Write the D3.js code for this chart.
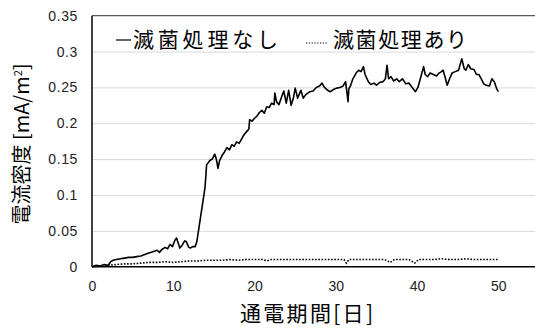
<!DOCTYPE html>
<html>
<head>
<meta charset="utf-8">
<script src="https://cdn.jsdelivr.net/npm/d3@7"></script>
<style>
  html, body { margin: 0; padding: 0; background: #fff; }
  svg { display: block; }
</style>
</head>
<body>
<svg id="chart" width="535" height="330"></svg>
<script>
// Current density without sterilization (day, mA/m2)
const daysUnsterilized = [
  0, 0.5, 1.0, 1.5, 2.0, 2.3, 2.6, 3.0, 3.5, 4.0, 4.5, 5.0, 5.5, 6.0, 6.5, 7.0, 7.5, 8.0, 8.3, 8.6,
  9.0, 9.3, 9.6, 9.9, 10.2, 10.4, 10.6, 10.8, 11.1, 11.4, 11.6, 11.9, 12.1, 12.4, 12.7, 12.9, 13.1, 13.3, 13.5, 13.7,
  13.9, 14.0, 14.1, 14.3, 14.5, 14.8, 15.1, 15.3, 15.5, 15.7, 16.0, 16.3, 16.6, 16.9, 17.2, 17.5, 17.8, 18.1, 18.4, 18.7,
  19.0, 19.3, 19.4, 19.7, 20.0, 20.3, 20.6, 20.9, 21.2, 21.5, 21.8, 22.1, 22.4, 22.5, 22.7, 23.0, 23.3, 23.6, 23.9, 24.2,
  24.5, 24.8, 25.0, 25.3, 25.7, 26.0, 26.3, 26.8, 27.2, 27.6, 28.0, 28.3, 28.6, 29.0, 29.3, 29.7, 30.1, 30.5, 30.9, 31.2,
  31.4, 31.5, 31.6, 31.8, 32.1, 32.5, 32.8, 33.1, 33.4, 33.6, 34.0, 34.3, 34.7, 35.0, 35.4, 35.8, 36.1, 36.3, 36.5, 36.8,
  37.1, 37.5, 37.8, 38.2, 38.6, 39.0, 39.4, 39.8, 40.1, 40.4, 40.8, 41.0, 41.3, 41.6, 42.0, 42.4, 42.7, 43.0, 43.2, 43.5,
  43.7, 44.0, 44.3, 44.7, 45.1, 45.4, 45.5, 45.8, 46.0, 46.3, 46.6, 47.0, 47.3, 47.6, 47.9, 48.2, 48.5, 48.9, 49.2, 49.5,
  49.8, 50.0
];
const currentUnsterilized = [
  0.000, 0.002, 0.001, 0.003, 0.002, 0.007, 0.009, 0.010, 0.011, 0.012, 0.013, 0.013, 0.014, 0.015, 0.017, 0.019, 0.021, 0.023, 0.020, 0.024,
  0.027, 0.025, 0.031, 0.028, 0.037, 0.040, 0.033, 0.026, 0.030, 0.036, 0.035, 0.027, 0.026, 0.028, 0.028, 0.035, 0.050, 0.065, 0.080, 0.095,
  0.110, 0.125, 0.142, 0.145, 0.148, 0.150, 0.157, 0.150, 0.137, 0.148, 0.155, 0.160, 0.166, 0.163, 0.170, 0.168, 0.174, 0.172, 0.178, 0.184,
  0.188, 0.192, 0.205, 0.203, 0.207, 0.210, 0.215, 0.218, 0.214, 0.223, 0.222, 0.228, 0.226, 0.242, 0.230, 0.226, 0.236, 0.245, 0.228, 0.246,
  0.225, 0.236, 0.249, 0.235, 0.246, 0.235, 0.240, 0.244, 0.245, 0.250, 0.252, 0.256, 0.250, 0.246, 0.244, 0.247, 0.249, 0.250, 0.252, 0.258,
  0.240, 0.230, 0.248, 0.252, 0.262, 0.270, 0.274, 0.272, 0.279, 0.268, 0.258, 0.254, 0.256, 0.253, 0.257, 0.258, 0.262, 0.281, 0.262, 0.265,
  0.259, 0.262, 0.258, 0.262, 0.255, 0.256, 0.250, 0.244, 0.250, 0.262, 0.279, 0.268, 0.265, 0.270, 0.268, 0.266, 0.270, 0.272, 0.274, 0.262,
  0.253, 0.262, 0.270, 0.272, 0.274, 0.286, 0.290, 0.276, 0.274, 0.282, 0.276, 0.275, 0.268, 0.268, 0.262, 0.255, 0.253, 0.252, 0.262, 0.258,
  0.248, 0.244
];

// Current density with sterilization (day, mA/m2)
const daysSterilized = [
  0, 1, 2, 3, 4, 5, 6, 7, 8, 9, 10, 11, 12, 13, 14, 15, 16, 17, 18, 19,
  20, 21, 21.5, 22, 23, 24, 25, 26, 27, 28, 29, 30, 31, 31.3, 31.6, 32, 33, 34, 35, 36,
  36.7, 37.2, 38, 39, 39.7, 40.2, 41, 42, 43, 44, 45, 46, 47, 48, 49, 50
];
const currentSterilized = [
  0.000, 0.001, 0.002, 0.003, 0.004, 0.004, 0.005, 0.006, 0.006, 0.007, 0.006, 0.007, 0.008, 0.008, 0.009, 0.009, 0.009, 0.010, 0.009, 0.010,
  0.010, 0.010, 0.008, 0.010, 0.010, 0.010, 0.010, 0.010, 0.010, 0.010, 0.010, 0.010, 0.010, 0.005, 0.010, 0.010, 0.010, 0.010, 0.010, 0.010,
  0.006, 0.010, 0.010, 0.010, 0.005, 0.010, 0.010, 0.010, 0.011, 0.010, 0.010, 0.011, 0.010, 0.010, 0.010, 0.010
];

const seriesNames = ["滅菌処理なし", "滅菌処理あり"];
const yTicks = [0, 0.05, 0.1, 0.15, 0.2, 0.25, 0.3, 0.35];
const yTickLabels = ["0", "0.05", "0.1", "0.15", "0.2", "0.25", "0.3", "0.35"];
const xTicks = [0, 10, 20, 30, 40, 50];
const xTickLabels = ["0", "10", "20", "30", "40", "50"];

const svg = d3.select("#chart");
const plot = { left: 92, right: 539, top: 15.7, bottom: 266.7 };
const latin = "'Liberation Sans', Arial, sans-serif";
const cjk = "'Noto Sans CJK JP', 'Noto Sans', sans-serif";

const x = d3.scaleLinear().domain([0, 55]).range([plot.left, plot.right]);
const y = d3.scaleLinear().domain([0, 0.35]).range([plot.bottom, plot.top]);

// horizontal gridlines
const grid = svg.append("g")
  .attr("transform", `translate(${plot.left},0)`)
  .call(d3.axisLeft(y).tickValues(yTicks.slice(1, -1)).tickSize(-(plot.right - plot.left)).tickFormat(""));
grid.select(".domain").remove();
grid.selectAll("line").attr("stroke", "#d9d9d9").attr("stroke-width", 1);

// top frame line
svg.append("line")
  .attr("x1", plot.left).attr("x2", plot.right)
  .attr("y1", y(0.35)).attr("y2", y(0.35))
  .attr("stroke", "#595959").attr("stroke-width", 1.3);

// y axis labels
const yAxis = svg.append("g")
  .attr("transform", `translate(${plot.left},0)`)
  .call(d3.axisLeft(y).tickValues(yTicks).tickSize(0).tickPadding(14)
    .tickFormat((d, i) => yTickLabels[i]));
yAxis.select(".domain").remove();
yAxis.selectAll("text")
  .attr("font-family", latin).attr("font-size", 14).attr("fill", "#222")
  .attr("letter-spacing", 0.6);

// x axis labels
const xAxis = svg.append("g")
  .attr("transform", `translate(0,${plot.bottom})`)
  .call(d3.axisBottom(x).tickValues(xTicks).tickSize(0).tickPadding(14)
    .tickFormat((d, i) => xTickLabels[i]));
xAxis.select(".domain").remove();
xAxis.selectAll("text")
  .attr("font-family", latin).attr("font-size", 14).attr("fill", "#222");

// series lines
const line = d3.line().x(d => x(d[0])).y(d => y(d[1]));
const unsterilized = daysUnsterilized.map((d, i) => [d, currentUnsterilized[i]]);
const sterilized = daysSterilized.map((d, i) => [d, currentSterilized[i]]);

svg.append("path")
  .datum(sterilized)
  .attr("d", line)
  .attr("fill", "none")
  .attr("stroke", "#000")
  .attr("stroke-width", 1.6)
  .attr("stroke-dasharray", "1.6,1.6");

svg.append("path")
  .datum(unsterilized)
  .attr("d", line)
  .attr("fill", "none")
  .attr("stroke", "#000")
  .attr("stroke-width", 1.6)
  .attr("stroke-linejoin", "round");

// axis lines
svg.append("line")
  .attr("x1", plot.left).attr("x2", plot.left)
  .attr("y1", plot.top).attr("y2", plot.bottom)
  .attr("stroke", "#000").attr("stroke-width", 1.5);
svg.append("line")
  .attr("x1", plot.left).attr("x2", plot.right)
  .attr("y1", plot.bottom).attr("y2", plot.bottom)
  .attr("stroke", "#000").attr("stroke-width", 1.5);

// legend
const legend = svg.append("g");
legend.append("line")
  .attr("x1", 116).attr("x2", 131).attr("y1", 40).attr("y2", 40)
  .attr("stroke", "#000").attr("stroke-width", 1.2);
legend.append("text")
  .attr("x", 133).attr("y", 47)
  .attr("font-family", cjk).attr("font-size", 21)
  .attr("textLength", 145).attr("lengthAdjust", "spacing")
  .attr("fill", "#000")
  .text(seriesNames[0]);
legend.append("line")
  .attr("x1", 306).attr("x2", 328).attr("y1", 43).attr("y2", 43)
  .attr("stroke", "#000").attr("stroke-width", 1.2)
  .attr("stroke-dasharray", "1.2,1.6");
legend.append("text")
  .attr("x", 333).attr("y", 47)
  .attr("font-family", cjk).attr("font-size", 21)
  .attr("textLength", 134).attr("lengthAdjust", "spacing")
  .attr("fill", "#000")
  .text(seriesNames[1]);

// axis titles
svg.append("text")
  .attr("x", 240).attr("y", 321)
  .attr("font-family", cjk).attr("font-size", 21).attr("fill", "#000")
  .attr("textLength", 133).attr("lengthAdjust", "spacing")
  .text("通電期間[日]");

const yTitle = svg.append("text")
  .attr("transform", "translate(29,144) rotate(-90)")
  .attr("text-anchor", "middle")
  .attr("font-family", cjk).attr("font-size", 20).attr("fill", "#000");
yTitle.append("tspan").text("電流密度 [mA/m");
yTitle.append("tspan").attr("font-size", 11).attr("dy", -7).text("2");
yTitle.append("tspan").attr("dy", 7).text("]");
</script>
</body>
</html>
